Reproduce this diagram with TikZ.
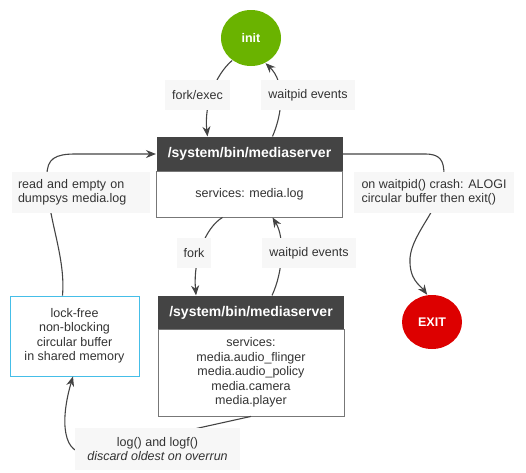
\documentclass[tikz,border=0pt]{standalone}
\usepackage{fontspec}
\setmainfont{Liberation Sans}
\usetikzlibrary{shapes.geometric,arrows.meta}
\definecolor{inkgray}{HTML}{444444}
\definecolor{textgray}{HTML}{333333}
\definecolor{labelbg}{HTML}{F7F7F7}
\definecolor{initgreen}{HTML}{6AB300}
\definecolor{exitred}{HTML}{DD0000}
\definecolor{buffcyan}{HTML}{45BEE8}
\definecolor{boxgray}{HTML}{777777}
\begin{document}
\begin{tikzpicture}[x=1pt,y=-1pt, font=\fontsize{12.5}{14.5}\selectfont,
  >={Stealth[length=10pt,width=8pt]}, line width=1.1pt,
  state/.style={ellipse, text=white, font=\fontsize{12.5}{14}\selectfont\bfseries, inner sep=0pt},
  head/.style={fill=inkgray, text=white, font=\fontsize{14}{16}\selectfont\bfseries, minimum width=186pt, inner sep=0pt},
  body/.style={draw=boxgray, line width=0.8pt, fill=white, text=textgray, minimum width=186pt, align=center, inner sep=0pt},
  lbl/.style={fill=labelbg, text=textgray, inner xsep=7pt, inner ysep=0pt, minimum height=30pt}]
\useasboundingbox (0,0) rectangle (526,472);
\node[state, fill=initgreen, minimum width=60pt, minimum height=56pt] (init) at (251,38) {init};
\node[state, fill=exitred, minimum width=60pt, minimum height=54pt] (exit) at (432,322) {EXIT};
\node[head, minimum height=34pt] (srvhead) at (249.5,154) {/system/bin/mediaserver};
\node[body, minimum height=46pt] (srvbody) at (249.5,194) {services: media.log};
\node[head, minimum height=33pt] (workhead) at (251,312.5) {/system/bin/mediaserver};
\node[body, minimum height=87pt] (workbody) at (251,372.5) {services:\\media.audio\_flinger\\media.audio\_policy\\media.camera\\media.player};
\node[draw=buffcyan, line width=0.8pt, text=textgray, align=center, minimum width=129pt, minimum height=80pt, inner sep=0pt] (buffer) at (74.5,336) {lock-free\\non-blocking\\circular buffer\\in shared memory};
% connectors
\draw[inkgray,->] (init.-130) .. controls (215,75) and (204,105) .. ([xshift=-42pt]srvhead.north);
\draw[inkgray,->] ([xshift=23pt]srvhead.north) .. controls (283,112) and (285,82) .. (init.-60);
\draw[inkgray,->] ([xshift=-12pt]buffer.north) .. controls (66,255) and (46,215) .. (47,175) .. controls (47,159) and (55,154) .. (75,154) -- (srvhead.west);
\draw[inkgray,->] (srvhead.east) -- (425,154) .. controls (440,154) and (444,160) .. (444,175) .. controls (444,205) and (412,232) .. (410,258) .. controls (409,280) and (420,285) .. (exit.100);
\draw[inkgray,->] ([xshift=-27pt]srvbody.south) .. controls (205,228) and (193,260) .. ([xshift=-55pt]workhead.north);
\draw[inkgray,->] ([xshift=21pt]workhead.north) .. controls (283,272) and (285,238) .. ([xshift=23pt]srvbody.south);
\draw[inkgray,->] (workbody.south) -- (90,452) .. controls (62,458) and (60,420) .. ([xshift=-1.5pt]buffer.south);
% labels
\node[lbl] (forkexeclbl) at (197.5,95) {fork/exec};
\node[lbl] (waitlbl) at (308,95) {waitpid events};
\node[lbl, inner xsep=6pt, text width=126pt, align=left, minimum height=41pt] (readlbl) at (81,192.5) {read and empty on\\dumpsys media.log};
\node[lbl, inner xsep=8pt, align=left, minimum height=41pt] (crashlbl) at (434,192.5) {on waitpid() crash: ALOGI\\circular buffer then exit()};
\node[lbl] (forklbl) at (194,253) {fork};
\node[lbl] (waitlbl2) at (309,253) {waitpid events};
\node[lbl, align=center, minimum height=42pt, minimum width=165pt] (loglbl) at (157.5,449) {log() and logf()\\\itshape discard oldest on overrun};
\end{tikzpicture}
\end{document}
